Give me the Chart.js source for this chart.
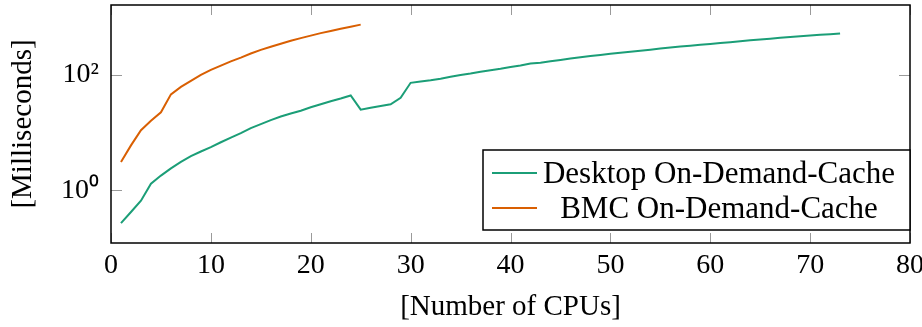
<!DOCTYPE html>
<html>
<head>
<meta charset="utf-8">
<script src="https://cdn.jsdelivr.net/npm/chart.js@4/dist/chart.umd.min.js"></script>
<style>
  body { margin: 0; background: #fff; }
  #wrap { width: 922px; height: 327px; }
</style>
</head>
<body>
<div id="wrap"><canvas id="myChart" width="922" height="327"></canvas></div>
<script>
// milliseconds per number of CPUs (first value = 1 CPU)
const desktopLabel = 'Desktop On-Demand-Cache';
const desktopMs = [
    0.27, 0.42, 0.66, 1.3, 1.8, 2.4, 3.1, 3.9, 4.7, 5.6,
    6.8, 8.2, 9.8, 12, 14, 16.5, 19, 21.5, 24, 27.5,
    31, 35, 39, 44, 25, 27, 29, 31, 40, 73,
    77, 81, 86, 93, 100, 106, 114, 121, 128, 137,
    146, 158, 163, 172, 182, 192, 202, 212, 222, 232,
    243, 252, 262, 274, 287, 298, 310, 321, 333, 345,
    357, 370, 385, 398, 412, 425, 440, 455, 468, 482,
    496, 508, 520
];
const bmcLabel = 'BMC On-Demand-Cache';
const bmcMs = [
    3.1, 6.0, 11, 16, 22.5, 46, 62, 79, 100, 122,
    145, 172, 200, 235, 272, 308, 348, 390, 434, 480,
    530, 578, 630, 685, 745
];
const xTicks = [0, 10, 20, 30, 40, 50, 60, 70, 80];
const yTicks = [1, 100];
const supers = { '0': '\u2070', '1': '\u00b9', '2': '\u00b2', '3': '\u00b3' };

const serif = 'Liberation Serif';

function toPoints(arr) {
    return arr.map((v, i) => ({ x: i + 1, y: v }));
}

// frame, inward ticks and legend box, pgfplots style
const frame = {
    id: 'frame',
    afterDatasetsDraw(chart) {
        const { ctx, chartArea: a } = chart;
        const xs = chart.scales.x, ys = chart.scales.y;
        ctx.save();
        ctx.strokeStyle = '#9a9a9a';
        ctx.lineWidth = 1;
        ctx.beginPath();
        for (const t of xs.ticks) {
            const px = Math.round(xs.getPixelForValue(t.value)) + 0.5;
            ctx.moveTo(px, a.bottom); ctx.lineTo(px, a.bottom - 10);
            ctx.moveTo(px, a.top); ctx.lineTo(px, a.top + 10);
        }
        for (const t of ys.ticks) {
            const py = Math.round(ys.getPixelForValue(t.value)) + 0.5;
            ctx.moveTo(a.left, py); ctx.lineTo(a.left + 11, py);
            ctx.moveTo(a.right, py); ctx.lineTo(a.right - 11, py);
        }
        ctx.stroke();

        ctx.strokeStyle = '#000';
        ctx.lineWidth = 1.5;
        ctx.strokeRect(a.left, a.top, a.right - a.left, a.bottom - a.top);

        // legend
        const lx = 483, ly = 150, lw = a.right - lx, lh = 80;
        ctx.fillStyle = '#fff';
        ctx.fillRect(lx, ly, lw, lh);
        ctx.strokeRect(lx, ly, lw, lh);
        const rows = [173, 208];
        ctx.font = '31px "' + serif + '"';
        ctx.textAlign = 'center';
        ctx.textBaseline = 'alphabetic';
        chart.data.datasets.forEach((ds, i) => {
            ctx.strokeStyle = ds.borderColor;
            ctx.lineWidth = 2;
            ctx.beginPath();
            ctx.moveTo(492, rows[i]); ctx.lineTo(537, rows[i]);
            ctx.stroke();
            ctx.fillStyle = '#000';
            ctx.fillText(ds.label, 719, rows[i] + 10);
        });
        ctx.restore();
    }
};

const ctx = document.getElementById('myChart').getContext('2d');
const myChart = new Chart(ctx, {
    type: 'line',
    data: {
        datasets: [{
            label: desktopLabel,
            data: toPoints(desktopMs),
            borderColor: '#1b9e77',
            borderWidth: 2,
            pointRadius: 0,
            tension: 0
        }, {
            label: bmcLabel,
            data: toPoints(bmcMs),
            borderColor: '#d95f02',
            borderWidth: 2,
            pointRadius: 0,
            tension: 0
        }]
    },
    options: {
        responsive: false,
        animation: false,
        layout: { padding: { top: 5, right: 12, left: 0, bottom: 0 } },
        plugins: { legend: { display: false }, tooltip: { enabled: false } },
        scales: {
            x: {
                type: 'linear',
                min: 0,
                max: 80,
                afterBuildTicks: s => { s.ticks = xTicks.map(v => ({ value: v })); },
                afterFit: s => { s.height = 84; s.paddingLeft = 0; s.paddingRight = 0; },
                grid: { display: false, drawTicks: false },
                border: { display: false },
                ticks: {
                    color: '#000',
                    padding: 6,
                    maxRotation: 0,
                    font: { family: serif, size: 28 }
                },
                title: {
                    display: true,
                    text: '[Number of CPUs]',
                    color: '#000',
                    padding: { bottom: 5 },
                    font: { family: serif, size: 29, lineHeight: 1 }
                }
            },
            y: {
                type: 'logarithmic',
                min: 0.122,
                max: 1630,
                afterBuildTicks: s => { s.ticks = yTicks.map(v => ({ value: v })); },
                afterFit: s => { s.width = 111; s.paddingTop = 0; s.paddingBottom = 0; },
                grid: { display: false, drawTicks: false },
                border: { display: false },
                ticks: {
                    color: '#000',
                    padding: 12,
                    font: { family: serif, size: 28 },
                    callback: v => '10' + String(Math.round(Math.log10(v))).split('').map(c => supers[c]).join('')
                },
                title: {
                    display: true,
                    text: '[Milliseconds]',
                    color: '#000',
                    padding: { top: 9 },
                    font: { family: serif, size: 29, lineHeight: 1 }
                }
            }
        }
    },
    plugins: [frame]
});
</script>
</body>
</html>
